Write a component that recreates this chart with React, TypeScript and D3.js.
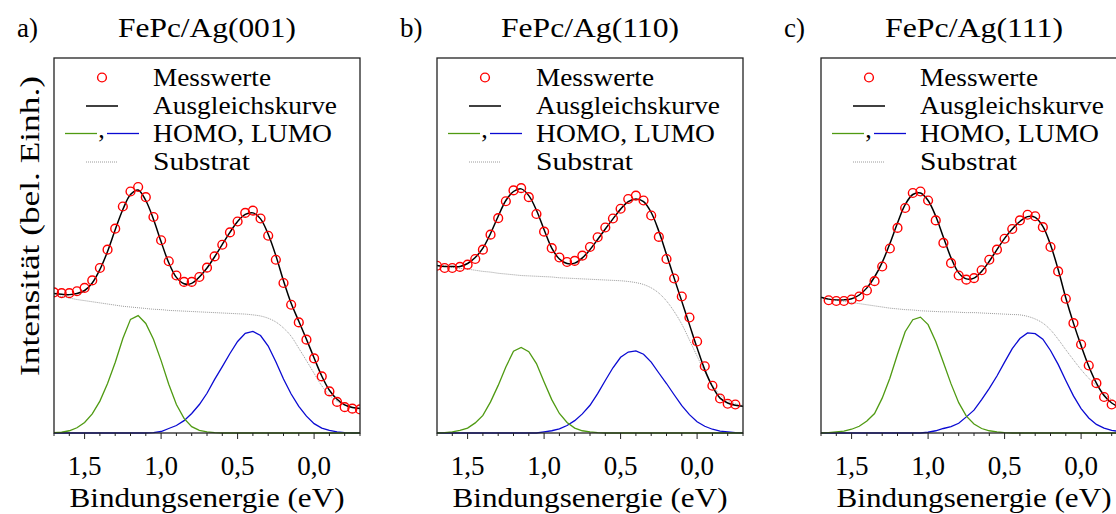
import React from 'react';
import * as d3 from 'd3';

// Binding energies (eV) of the common sampling grid
const ENERGY = [1.70, 1.65, 1.60, 1.55, 1.50, 1.45, 1.40, 1.35, 1.30, 1.25, 1.20, 1.15, 1.10, 1.05, 1.00, 0.95, 0.90, 0.85, 0.80, 0.75, 0.70, 0.65, 0.60, 0.55, 0.50, 0.45, 0.40, 0.35, 0.30, 0.25, 0.20, 0.15, 0.10, 0.05, 0.00, -0.05, -0.10, -0.15, -0.20, -0.25, -0.30];

const MAJOR_TICKS = [1.5, 1.0, 0.5, 0.0];
const TICK_LABELS = ['1,5', '1,0', '0,5', '0,0'];

// Panel a) FePc/Ag(001)
const MEAS_A = [37.5, 37.3, 37.3, 37.8, 38.7, 40.7, 44.0, 48.9, 54.5, 60.4, 64.4, 65.6, 62.9, 57.6, 51.4, 45.8, 42.0, 40.3, 40.3, 41.6, 44.1, 47.1, 50.2, 53.5, 56.4, 58.7, 59.3, 57.2, 52.6, 46.2, 40.0, 34.2, 29.5, 24.9, 19.9, 15.1, 11.1, 8.3, 6.9, 6.5, 6.3];
const FIT_A = [37.2, 37.0, 36.9, 37.2, 38.0, 40.0, 43.6, 48.4, 54.2, 59.6, 63.6, 64.8, 62.0, 57.0, 51.0, 45.4, 41.5, 39.8, 39.9, 41.6, 44.0, 47.0, 50.3, 53.5, 56.4, 58.3, 58.7, 57.1, 53.0, 47.3, 40.6, 34.6, 29.8, 25.0, 20.0, 15.2, 11.4, 9.0, 7.5, 6.8, 6.5];
const SUB_A = [36.8, 36.4, 36.0, 35.6, 35.3, 35.0, 34.7, 34.4, 34.1, 33.8, 33.6, 33.4, 33.2, 33.0, 32.9, 32.7, 32.6, 32.5, 32.4, 32.3, 32.2, 32.1, 32.0, 31.9, 31.8, 31.7, 31.5, 31.2, 30.6, 29.6, 28.0, 25.8, 22.6, 19.3, 15.9, 12.6, 10.1, 8.5, 7.4, 6.9, 6.6];
const HOMO_A = [0.1, 0.2, 0.6, 1.4, 2.8, 5.1, 8.5, 13.2, 18.8, 25.2, 30.3, 31.3, 29.2, 25.0, 19.3, 13.0, 7.6, 3.9, 1.7, 0.7, 0.3, 0.1, 0, 0, 0, 0, 0, 0, 0, 0, 0, 0, 0, 0, 0, 0, 0, 0, 0, 0, 0];
const LUMO_A = [0, 0, 0, 0, 0, 0, 0, 0, 0, 0, 0, 0, 0, 0.1, 0.4, 1.2, 2.0, 3.3, 5.2, 7.6, 10.6, 14.3, 17.7, 21.2, 24.4, 26.6, 27.1, 26.0, 23.2, 19.0, 14.4, 10.4, 7.1, 4.5, 2.5, 1.3, 0.7, 0.3, 0.1, 0, 0];

// Panel b) FePc/Ag(110)
const MEAS_B = [44.6, 44.0, 44.0, 44.3, 44.9, 46.4, 48.9, 52.9, 57.3, 61.8, 64.7, 65.3, 62.9, 58.4, 53.7, 49.3, 46.8, 45.6, 45.9, 47.3, 49.6, 52.2, 54.8, 57.2, 59.8, 62.4, 63.3, 62.0, 58.0, 52.3, 46.4, 41.2, 36.4, 30.8, 24.4, 17.8, 12.6, 9.2, 7.8, 7.6];
const FIT_B = [44.7, 44.4, 44.4, 44.4, 45.2, 46.8, 49.3, 53.2, 57.8, 62.0, 64.4, 65.1, 63.3, 59.4, 54.2, 49.3, 46.4, 45.2, 45.3, 46.7, 48.9, 51.6, 54.4, 57.1, 59.7, 61.7, 62.4, 61.7, 58.8, 53.8, 47.6, 41.3, 35.1, 28.9, 22.7, 16.9, 12.4, 9.3, 8.0, 7.4, 7.1];
const SUB_B = [44.7, 44.5, 44.2, 43.9, 43.7, 43.4, 43.1, 42.9, 42.6, 42.4, 42.2, 42.0, 41.9, 41.8, 41.7, 41.6, 41.4, 41.3, 41.2, 41.1, 41.0, 40.9, 40.8, 40.7, 40.6, 40.4, 40.1, 39.6, 38.7, 37.3, 35.2, 32.4, 29.0, 24.8, 20.5, 16.3, 12.8, 10.2, 8.7, 7.8, 7.3];
const HOMO_B = [0, 0.1, 0.3, 0.7, 1.3, 2.7, 4.7, 8.3, 12.7, 17.6, 21.8, 22.8, 21.7, 18.5, 13.6, 8.9, 5.2, 2.8, 1.3, 0.6, 0.3, 0.1, 0, 0, 0, 0, 0, 0, 0, 0, 0, 0, 0, 0, 0, 0, 0, 0, 0, 0, 0];
const LUMO_B = [0, 0, 0, 0, 0, 0, 0, 0, 0, 0, 0, 0, 0, 0, 0.3, 0.6, 1.1, 2.0, 3.3, 5.1, 7.4, 10.5, 14.0, 17.4, 20.2, 21.6, 21.9, 21.0, 18.9, 16.0, 13.2, 10.2, 7.3, 4.9, 3.0, 1.8, 1.0, 0.5, 0.3, 0.1, 0];

// Panel c) FePc/Ag(111)
const MEAS_C = [35.4, 35.2, 35.2, 35.6, 36.4, 38.0, 40.5, 44.4, 49.2, 54.7, 60.0, 64.0, 64.4, 62.0, 56.7, 50.7, 45.3, 42.0, 40.9, 41.3, 43.4, 46.2, 48.9, 51.8, 54.4, 56.7, 58.2, 57.8, 54.9, 49.6, 43.1, 35.8, 29.3, 23.6, 18.0, 13.3, 9.6, 7.6];
const FIT_C = [36.2, 35.7, 35.5, 35.5, 35.8, 36.8, 38.7, 41.6, 45.5, 50.5, 56.0, 60.9, 63.6, 64.0, 62.0, 57.8, 52.2, 46.7, 42.7, 41.1, 41.3, 43.1, 45.8, 48.9, 51.9, 54.4, 56.4, 57.7, 57.5, 55.1, 50.2, 43.6, 36.0, 29.3, 23.3, 17.8, 13.3, 10.0, 8.0, 6.9, 6.6];
const SUB_C = [36.0, 35.7, 35.4, 35.1, 34.8, 34.5, 34.2, 33.9, 33.6, 33.3, 33.1, 32.9, 32.8, 32.6, 32.5, 32.4, 32.3, 32.3, 32.2, 32.1, 32.1, 32.0, 31.9, 31.8, 31.7, 31.6, 31.5, 31.1, 30.4, 29.3, 27.5, 25.0, 22.2, 19.5, 16.9, 14.6, 12.6, 10.5, 8.9, 7.7, 7.0];
const HOMO_C = [0, 0.1, 0.3, 0.5, 1.0, 1.8, 3.2, 5.2, 9.3, 14.6, 21.0, 27.0, 30.2, 30.9, 28.9, 24.4, 18.8, 13.1, 8.1, 4.5, 2.4, 1.2, 0.6, 0.3, 0.1, 0, 0, 0, 0, 0, 0, 0, 0, 0, 0, 0, 0, 0, 0, 0, 0];
const LUMO_C = [0, 0, 0, 0, 0, 0, 0, 0, 0, 0, 0, 0, 0, 0, 0.2, 0.6, 1.2, 1.7, 2.6, 4.3, 6.1, 8.9, 11.9, 15.2, 18.9, 22.5, 25.2, 26.7, 26.5, 25.0, 22.0, 18.3, 14.0, 9.9, 6.5, 4.0, 2.3, 1.3, 0.7, 0.4, 0.2];

const LEGEND_LABELS = ['Messwerte', 'Ausgleichskurve', 'HOMO, LUMO', 'Substrat'];

const FONT = 'Liberation Serif, DejaVu Serif, serif';
const GREEN = '#4f9a12';
const BLUE = '#0a0ad2';
const RED = '#ff0000';

const PANELS = [
  { id: 'a', tag: 'a)', title: 'FePc/Ag(001)', left: 54, measE: ENERGY, meas: MEAS_A, fit: FIT_A, sub: SUB_A, homo: HOMO_A, lumo: LUMO_A },
  { id: 'b', tag: 'b)', title: 'FePc/Ag(110)', left: 437, measE: ENERGY.slice(0, 40), meas: MEAS_B, fit: FIT_B, sub: SUB_B, homo: HOMO_B, lumo: LUMO_B },
  { id: 'c', tag: 'c)', title: 'FePc/Ag(111)', left: 821, measE: ENERGY.slice(1, 39), meas: MEAS_C, fit: FIT_C, sub: SUB_C, homo: HOMO_C, lumo: LUMO_C },
];

const TOP = 58;
const BOTTOM = 433;
const PW = 306;

function Panel({ p }: { p: typeof PANELS[number] }) {
  const x = d3.scaleLinear().domain([1.7, -0.3]).range([p.left, p.left + PW]);
  const y = d3.scaleLinear().domain([0, 100]).range([BOTTOM, TOP]);
  const line = (vals: number[]) =>
    d3.line<number>().x((_, i) => x(ENERGY[i])).y((v) => y(v)).curve(d3.curveLinear)(vals) || '';
  const smooth = (vals: number[]) =>
    d3.line<number>().x((_, i) => x(ENERGY[i])).y((v) => y(v)).curve(d3.curveCatmullRom.alpha(0.5))(vals) || '';
  const minorTicks = x.ticks(20);
  const cx = p.left + PW / 2;
  const L = p.left;
  return (
    <g>
      <defs>
        <clipPath id={`clip-${p.id}`}>
          <rect x={L} y={TOP} width={PW} height={BOTTOM - TOP + 1} />
        </clipPath>
      </defs>
      <text x={L - 37} y={37} fontSize={27} fontFamily={FONT}>{p.tag}</text>
      <text x={cx} y={37} fontSize={28} fontFamily={FONT} textAnchor="middle" textLength={178} lengthAdjust="spacingAndGlyphs">{p.title}</text>
      <g clipPath={`url(#clip-${p.id})`}>
        <path d={smooth(p.sub)} fill="none" stroke="#9a9a9a" strokeWidth={1} strokeDasharray="1,1" />
        <path d={line(p.lumo)} fill="none" stroke={BLUE} strokeWidth={1.3} />
        <path d={line(p.homo)} fill="none" stroke={GREEN} strokeWidth={1.3} />
        <path d={smooth(p.fit)} fill="none" stroke="#000" strokeWidth={1.5} />
        {p.meas.map((v, i) => (
          <circle key={i} cx={x(p.measE[i])} cy={y(v)} r={4.4} fill="none" stroke={RED} strokeWidth={1.4} />
        ))}
      </g>
      <rect x={L} y={TOP} width={PW} height={BOTTOM - TOP} fill="none" stroke="#222" strokeWidth={1.3} />
      {minorTicks.map((t, i) => {
        const major = MAJOR_TICKS.some((m) => Math.abs(m - t) < 1e-6);
        return <line key={i} x1={x(t)} x2={x(t)} y1={BOTTOM} y2={BOTTOM + (major ? 6 : 3)} stroke="#222" strokeWidth={1} />;
      })}
      {MAJOR_TICKS.map((t, i) => (
        <text key={i} x={x(t)} y={475} fontSize={27} fontFamily={FONT} textAnchor="middle">{TICK_LABELS[i]}</text>
      ))}
      <text x={cx} y={507} fontSize={28} fontFamily={FONT} textAnchor="middle" textLength={275} lengthAdjust="spacingAndGlyphs">Bindungsenergie (eV)</text>
      {/* legend */}
      <circle cx={L + 48} cy={TOP + 19.5} r={4.4} fill="none" stroke={RED} strokeWidth={1.4} />
      <line x1={L + 32} x2={L + 64} y1={TOP + 48} y2={TOP + 48} stroke="#000" strokeWidth={1.5} />
      <line x1={L + 11} x2={L + 43} y1={TOP + 75.5} y2={TOP + 75.5} stroke={GREEN} strokeWidth={1.3} />
      <text x={L + 47.5} y={TOP + 80} fontSize={26} fontFamily={FONT} textAnchor="middle">,</text>
      <line x1={L + 53} x2={L + 85} y1={TOP + 75.5} y2={TOP + 75.5} stroke={BLUE} strokeWidth={1.3} />
      <line x1={L + 32} x2={L + 64} y1={TOP + 104} y2={TOP + 104} stroke="#9a9a9a" strokeWidth={1} strokeDasharray="1,1" />
      {LEGEND_LABELS.map((s, i) => (
        <text key={s} x={L + 99} y={TOP + 28 + i * 28} fontSize={26} fontFamily={FONT}
          textLength={[118, 184, 179, 97][i]} lengthAdjust="spacingAndGlyphs">{s}</text>
      ))}
    </g>
  );
}

export default function App() {
  return (
    <svg width={1116} height={514} style={{ position: 'absolute', left: 0, top: 0, background: '#fff' }}>
      <rect x={0} y={0} width={1116} height={514} fill="#fff" />
      <text transform="translate(39,226) rotate(-90)" fontSize={28} fontFamily={FONT} textAnchor="middle"
        textLength={300} lengthAdjust="spacingAndGlyphs">Intensität (bel. Einh.)</text>
      {PANELS.map((p) => <Panel key={p.id} p={p} />)}
    </svg>
  );
}
